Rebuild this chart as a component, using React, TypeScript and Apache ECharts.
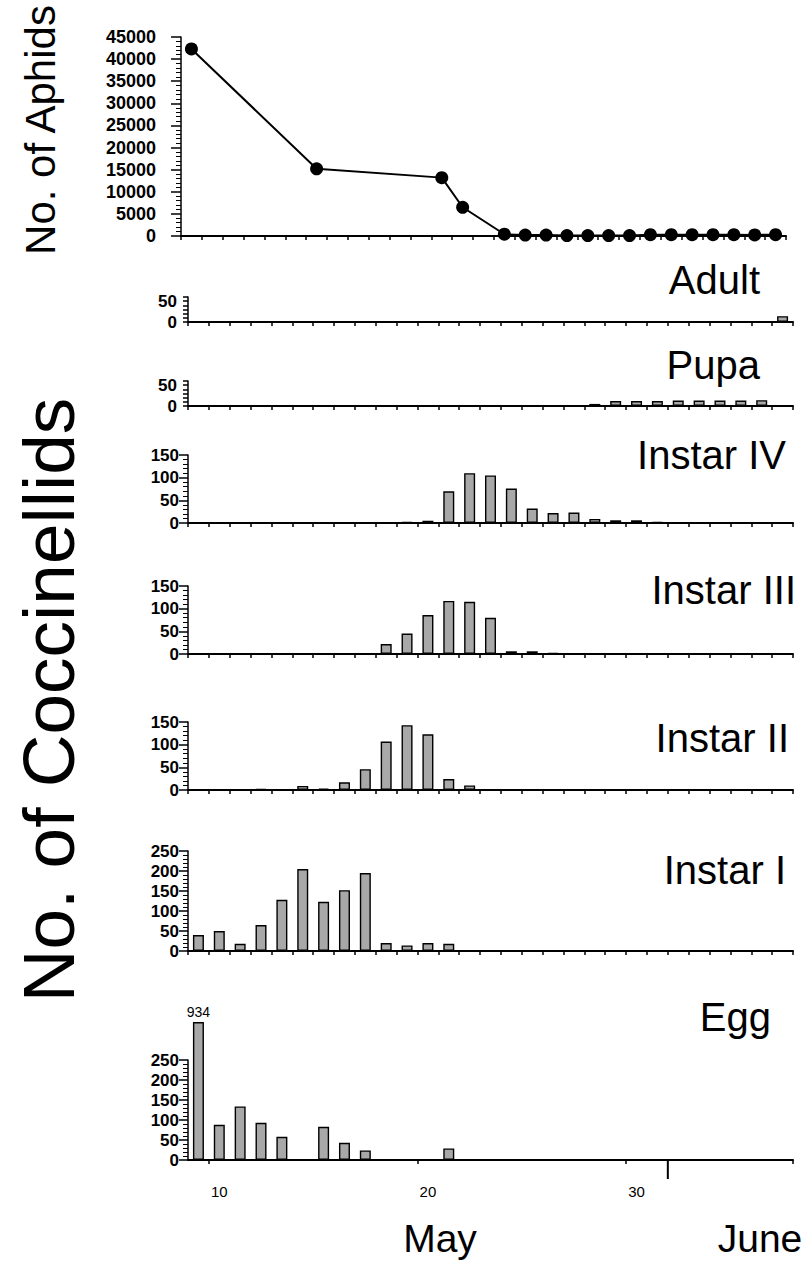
import React, { useEffect, useRef } from 'react';
import * as echarts from 'echarts';

// ---------- DATA ----------
// Sampling days: May 9 ... May 31, June 1 ... June 6
const days = ['9', '10', '11', '12', '13', '14', '15', '16', '17', '18', '19', '20', '21', '22', '23', '24', '25', '26', '27', '28', '29', '30', '31', '1', '2', '3', '4', '5', '6'];
const dayTickLabels = ['10', '20', '30'];
const monthLabels = ['May', 'June'];

const aphids = [42300, null, null, null, null, null, 15200, null, null, null, null, null, 13200, 6500, null, 400, 200, 200, 100, 100, 100, 100, 300, 300, 300, 300, 300, 250, 300];
const adult = [0, 0, 0, 0, 0, 0, 0, 0, 0, 0, 0, 0, 0, 0, 0, 0, 0, 0, 0, 0, 0, 0, 0, 0, 0, 0, 0, 0, 14];
const pupa = [0, 0, 0, 0, 0, 0, 0, 0, 0, 0, 0, 0, 0, 0, 0, 0, 0, 0, 2, 5, 12, 12, 12, 13, 13, 13, 13, 14, 0];
const instar4 = [0, 0, 0, 0, 0, 0, 0, 0, 0, 0, 2, 5, 70, 110, 105, 76, 32, 22, 23, 9, 6, 6, 2, 0, 0, 0, 0, 0, 0];
const instar3 = [0, 0, 0, 0, 0, 0, 0, 0, 0, 22, 45, 86, 117, 115, 80, 6, 6, 2, 0, 0, 0, 0, 0, 0, 0, 0, 0, 0, 0];
const instar2 = [0, 0, 1, 2, 0, 9, 3, 17, 46, 107, 143, 123, 24, 10, 0, 0, 0, 0, 0, 0, 0, 0, 0, 0, 0, 0, 0, 0, 0];
const instar1 = [40, 50, 18, 65, 128, 205, 123, 152, 195, 20, 14, 20, 18, 0, 0, 0, 0, 0, 0, 0, 0, 0, 0, 0, 0, 0, 0, 0, 0];
const egg = [934, 88, 134, 93, 58, 0, 83, 43, 24, 0, 0, 0, 29, 0, 0, 0, 0, 0, 0, 0, 0, 0, 0, 0, 0, 0, 0, 0, 0];

// ---------- STYLE / LAYOUT ----------
const FONT = '"Liberation Sans", Arial, Helvetica, sans-serif';
const GRID_W = 605;
const EGG_BREAK = 345; // bars above the axis are drawn broken at this height

const barPanels = [
  { title: 'Adult', data: adult, max: 60, interval: 10, labels: [0, 50], top: 297, bottom: 322, tx: 760, ty: 280 },
  { title: 'Pupa', data: pupa, max: 60, interval: 10, labels: [0, 50], top: 381, bottom: 406, tx: 760, ty: 365 },
  { title: 'Instar IV', data: instar4, max: 150, interval: 50, top: 455, bottom: 523, tx: 786, ty: 455 },
  { title: 'Instar III', data: instar3, max: 150, interval: 50, top: 586, bottom: 654, tx: 796, ty: 590 },
  { title: 'Instar II', data: instar2, max: 150, interval: 50, top: 722, bottom: 790, tx: 789, ty: 738 },
  { title: 'Instar I', data: instar1, max: 250, interval: 50, top: 851, bottom: 951, tx: 786, ty: 870 },
  { title: 'Egg', data: egg, max: 250, interval: 50, top: 1060, bottom: 1160, tx: 771, ty: 1017 },
];

function buildOption() {
  const grids: any[] = [{ left: 181, top: 37, width: GRID_W, height: 236 - 37 }];
  barPanels.forEach((p) => grids.push({ left: 188, top: p.top, width: GRID_W, height: p.bottom - p.top }));
  const last = grids.length - 1;

  const xAxes = grids.map((_, i) => ({
    type: 'category',
    gridIndex: i,
    data: days,
    boundaryGap: true,
    axisLine: { show: true, lineStyle: { color: '#000', width: 2 } },
    axisTick: { show: true, length: 4, lineStyle: { color: '#000', width: 1.5 } },
    axisLabel: i === last
      ? {
          show: true,
          interval: (_idx: number, v: string) => dayTickLabels.includes(v),
          color: '#000',
          fontFamily: FONT,
          fontSize: 15,
          margin: 24,
        }
      : { show: false },
    splitLine: { show: false },
  }));

  const yAxes: any[] = [
    {
      type: 'value',
      gridIndex: 0,
      min: 0,
      max: 45000,
      interval: 5000,
      axisLine: { show: true, lineStyle: { color: '#000', width: 1.5 } },
      axisTick: { show: true, length: 10, lineStyle: { color: '#000', width: 1.5 } },
      minorTick: { show: true, splitNumber: 5, length: 5, lineStyle: { color: '#000', width: 1 } },
      axisLabel: {
        color: '#000',
        fontFamily: FONT,
        fontSize: 18,
        fontWeight: 'bold',
        margin: 25,
        padding: [6, 0, 0, 0],
        formatter: (v: number) => String(v),
      },
      splitLine: { show: false },
    },
  ];
  barPanels.forEach((p, k) => {
    const small = !!p.labels;
    yAxes.push({
      type: 'value',
      gridIndex: k + 1,
      min: 0,
      max: p.max,
      interval: p.interval,
      axisLine: { show: true, lineStyle: { color: '#000', width: 1.5 } },
      axisTick: { show: true, length: small ? 5 : 9, lineStyle: { color: '#000', width: 1.5 } },
      minorTick: small
        ? { show: false }
        : { show: true, splitNumber: 5, length: 5, lineStyle: { color: '#000', width: 1 } },
      axisLabel: {
        color: '#000',
        fontFamily: FONT,
        fontSize: 17,
        fontWeight: 'bold',
        margin: small ? 11 : 9,
        padding: [6, 0, 0, 0],
        formatter: small ? (v: number) => (p.labels!.includes(v) ? String(v) : '') : (v: number) => String(v),
      },
      splitLine: { show: false },
    });
  });

  const series: any[] = [
    {
      type: 'line',
      xAxisIndex: 0,
      yAxisIndex: 0,
      data: aphids,
      connectNulls: true,
      symbol: 'circle',
      symbolSize: 13,
      itemStyle: { color: '#000' },
      lineStyle: { color: '#000', width: 2 },
      z: 3,
    },
  ];
  barPanels.forEach((p, k) => {
    series.push({
      type: 'bar',
      xAxisIndex: k + 1,
      yAxisIndex: k + 1,
      barWidth: 11,
      clip: false,
      data: p.data.map((v) =>
        v > p.max
          ? {
              value: EGG_BREAK,
              label: {
                show: true,
                position: 'top',
                distance: 3,
                formatter: String(v),
                color: '#000',
                fontFamily: FONT,
                fontSize: 14,
              },
            }
          : v
      ),
      itemStyle: { color: '#a8a8a8', borderColor: '#000', borderWidth: 1.4 },
      z: 2,
    });
  });

  // month boundary tick (between May 31 and June 1)
  const juneIndex = days.indexOf('1');
  series.push({
    type: 'custom',
    xAxisIndex: last,
    yAxisIndex: last,
    clip: false,
    silent: true,
    data: [[juneIndex, 0]],
    renderItem: (_params: any, api: any) => {
      const c = api.coord([api.value(0), 0]);
      const band = api.size([1, 0])[0];
      const x = c[0] - band / 2;
      return {
        type: 'line',
        shape: { x1: x, y1: c[1], x2: x, y2: c[1] + 19 },
        style: { stroke: '#000', lineWidth: 2 },
      };
    },
    z: 5,
  });

  const graphic: any[] = [
    {
      type: 'text',
      x: 40,
      y: 130,
      rotation: Math.PI / 2,
      style: { text: 'No. of Aphids', align: 'center', verticalAlign: 'middle', fontFamily: FONT, fontSize: 42, fill: '#000' },
    },
    {
      type: 'text',
      x: 48,
      y: 700,
      rotation: Math.PI / 2,
      style: { text: 'No. of Coccinellids', align: 'center', verticalAlign: 'middle', fontFamily: FONT, fontSize: 73, fill: '#000' },
    },
    {
      type: 'text',
      x: 440,
      y: 1238,
      style: { text: monthLabels[0], align: 'center', verticalAlign: 'middle', fontFamily: FONT, fontSize: 39, fill: '#000' },
    },
    {
      type: 'text',
      x: 760,
      y: 1238,
      style: { text: monthLabels[1], align: 'center', verticalAlign: 'middle', fontFamily: FONT, fontSize: 39, fill: '#000' },
    },
  ];
  barPanels.forEach((p) =>
    graphic.push({
      type: 'text',
      x: p.tx,
      y: p.ty,
      style: { text: p.title, align: 'right', verticalAlign: 'middle', fontFamily: FONT, fontSize: 40, fill: '#000' },
    })
  );

  return {
    animation: false,
    backgroundColor: '#fff',
    grid: grids,
    xAxis: xAxes,
    yAxis: yAxes,
    series,
    graphic,
  };
}

export default function App() {
  const ref = useRef<HTMLDivElement>(null);
  useEffect(() => {
    if (!ref.current) return;
    const chart = echarts.init(ref.current, undefined, { renderer: 'svg' });
    chart.setOption(buildOption() as any);
    return () => chart.dispose();
  }, []);
  return (
    <div
      ref={ref}
      style={{ position: 'absolute', left: 0, top: 0, width: 811, height: 1261, background: '#fff' }}
    />
  );
}
